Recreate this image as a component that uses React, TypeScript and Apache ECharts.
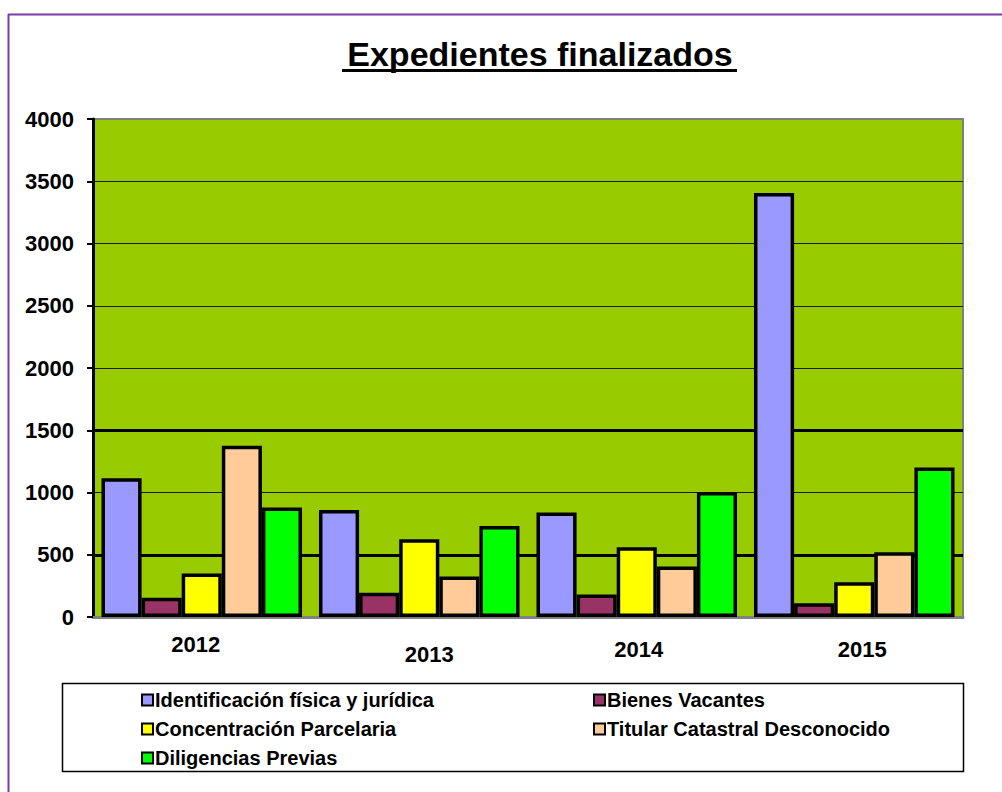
import React, { useEffect, useRef } from "react";
import * as echarts from "echarts";

const categories = ["2012", "2013", "2014", "2015"];
const seriesNames = [
  "Identificación física y jurídica",
  "Bienes Vacantes",
  "Concentración Parcelaria",
  "Titular Catastral Desconocido",
  "Diligencias Previas",
];
const identificacion = [1115, 860, 840, 3405];
const bienesVacantes = [155, 195, 180, 110];
const concentracion = [350, 625, 560, 280];
const titular = [1375, 325, 405, 520];
const diligencias = [880, 730, 1005, 1200];
const seriesColors = ["#9999FF", "#993366", "#FFFF00", "#FFCC99", "#00FF00"];
const yTicks = { min: 0, max: 4000, interval: 500 };
const thickGridValues = [500, 1500];
const titleText = "Expedientes finalizados";

const FONT = "'Liberation Sans', Arial, sans-serif";

export default function App() {
  const ref = useRef<HTMLDivElement>(null);
  useEffect(() => {
    if (!ref.current) return;
    const chart = echarts.init(ref.current, null, { renderer: "svg" });
    const values = [identificacion, bienesVacantes, concentracion, titular, diligencias];
    const base = { fontSize: 22, fontWeight: "bold", fontFamily: FONT, color: "#000" };
    const labelRich: any = {
      l0: { ...base, padding: [0, 12, 0, 0] },
      l1: { ...base, padding: [10, 0, 0, 20] },
      l2: { ...base, padding: [5, 0, 0, 4] },
      l3: { ...base, padding: [5, 0, 0, 16] },
    };
    const splitColors = ["#808080", "#1a1a1a", "#1a1a1a", "#1a1a1a", "#1a1a1a", "#1a1a1a", "#1a1a1a", "#1a1a1a", "#808080"];
    const legendCommon = {
      orient: "vertical" as const,
      itemWidth: 11,
      itemHeight: 11,
      itemGap: 9,
      icon: "rect",
      itemStyle: { borderColor: "#000", borderWidth: 2 },
      textStyle: { fontFamily: FONT, fontWeight: "bold" as const, fontSize: 20, color: "#000", lineHeight: 20, padding: [0, 0, 0, -3] },
    };
    chart.setOption({
      animation: false,
      backgroundColor: "#fff",
      grid: {
        left: 93,
        right: 39,
        top: 119,
        bottom: 175,
        show: true,
        backgroundColor: "#99CC00",
        borderColor: "#808080",
        borderWidth: 2,
      },
      xAxis: {
        type: "category",
        data: categories,
        axisLine: { show: true, lineStyle: { color: "#808080", width: 3 } },
        axisTick: { show: false },
        axisLabel: {
          margin: 16,
          formatter: (v: string, i: number) => `{l${i}|${v}}`,
          rich: labelRich,
        },
      },
      yAxis: {
        type: "value",
        min: yTicks.min,
        max: yTicks.max,
        interval: yTicks.interval,
        axisLine: { show: true, lineStyle: { color: "#000", width: 3 } },
        axisTick: { show: true, length: 6, lineStyle: { color: "#000", width: 2 } },
        axisLabel: {
          margin: 19,
          fontSize: 22,
          fontWeight: "bold",
          fontFamily: FONT,
          color: "#000",
          formatter: (v: number) => String(v),
        },
        splitLine: { show: true, lineStyle: { color: splitColors, width: 1.2 } },
      },
      legend: [
        { ...legendCommon, left: 136, top: 685, data: [seriesNames[0], seriesNames[2], seriesNames[4]] },
        { ...legendCommon, left: 588, top: 685, data: [seriesNames[1], seriesNames[3]] },
      ],
      series: seriesNames.map((name, i) => ({
        name,
        type: "bar",
        data: values[i],
        barGap: "0%",
        barCategoryGap: "7.8%",
        itemStyle: { color: seriesColors[i], borderColor: "#000", borderWidth: 3.5 },
        markLine:
          i === 0
            ? {
                silent: true,
                symbol: "none",
                label: { show: false },
                lineStyle: { color: "#000", width: 3, type: "solid" },
                z: 1,
                data: thickGridValues.map((v) => ({ yAxis: v })),
              }
            : undefined,
      })),
      graphic: [
        { type: "line", shape: { x1: 8, y1: 14.5, x2: 1002, y2: 14.5 }, style: { stroke: "#7b3aa6", lineWidth: 2 } },
        { type: "line", shape: { x1: 8.5, y1: 14, x2: 8.5, y2: 792 }, style: { stroke: "#7b3aa6", lineWidth: 2 } },
        {
          type: "text",
          x: 540,
          y: 54,
          style: {
            text: titleText,
            fontFamily: FONT,
            fontWeight: "bold",
            fontSize: 34,
            fill: "#000",
            align: "center",
            verticalAlign: "middle",
          },
        },
        { type: "line", shape: { x1: 342, y1: 70.5, x2: 737, y2: 70.5 }, style: { stroke: "#000", lineWidth: 3 } },
        {
          type: "rect",
          shape: { x: 62.5, y: 683.5, width: 901, height: 88 },
          style: { fill: "none", stroke: "#000", lineWidth: 1.5 },
          z: -1,
        },
      ],
    });
    return () => chart.dispose();
  }, []);
  return (
    <div
      ref={ref}
      style={{ position: "fixed", left: 0, top: 0, width: 1002, height: 792, background: "#fff" }}
    />
  );
}
